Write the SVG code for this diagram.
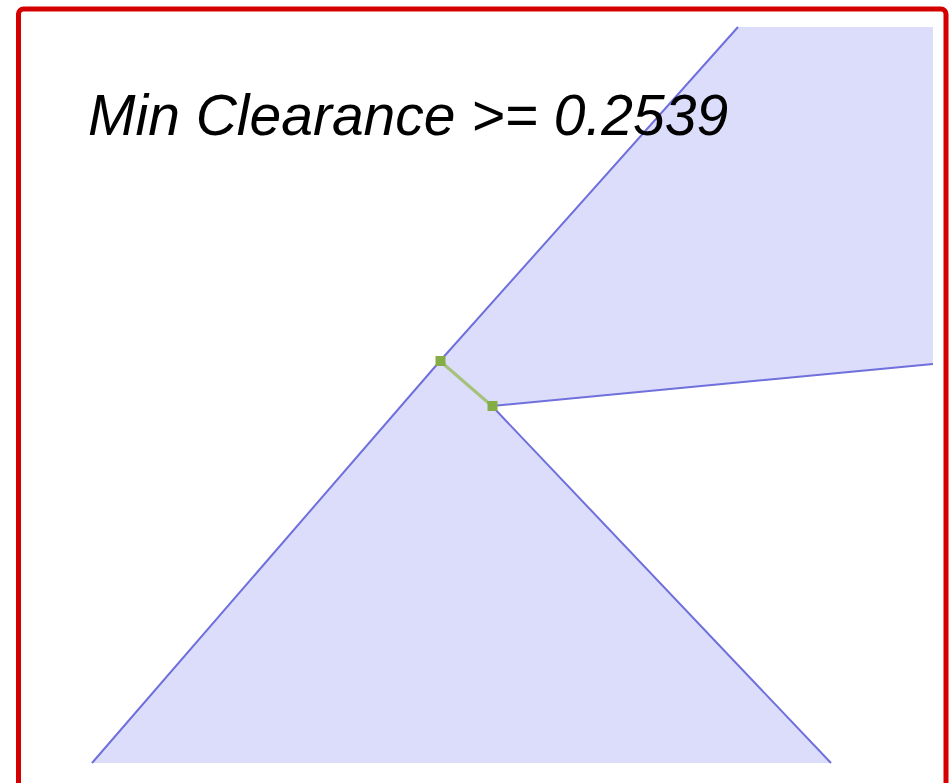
<svg xmlns="http://www.w3.org/2000/svg" width="951" height="783" viewBox="0 0 951 783">
<style>
.fill{fill:#dcdcfb;stroke:none}
.edge{fill:none;stroke:#7070dc;stroke-width:2;stroke-linejoin:round}
.gap{stroke:#a6c27a;stroke-width:3}
.pt{fill:#84ad45}
.frame{fill:none;stroke:#d40000;stroke-width:5}
.label{font-family:"Liberation Sans",Arial,sans-serif;font-style:italic;font-size:57px;fill:#000}
</style>
<rect width="951" height="783" fill="#fff"/>
<g id="shapes">
<polygon class="fill" points="92,763 440,361 738,27 933,27 933,364 492,406 831,763"/>
<polyline class="edge" points="92,763 440,361 738,27"/>
<polyline class="edge" points="933,364 492,406 831,763"/>
</g>
<g id="clearance">
<line class="gap" x1="440" y1="361" x2="492" y2="406"/>
<rect class="pt" x="435.5" y="356" width="10" height="10"/>
<rect class="pt" x="487.5" y="401" width="10" height="10"/>
</g>
<g id="label">
<text class="label" x="88" y="135">Min Clearance &gt;= 0.2539</text>
</g>
<path class="frame" d="M18.5,800 V14 a5,5 0 0 1 5,-5 H941 a5,5 0 0 1 5,5 V800"/>
</svg>
